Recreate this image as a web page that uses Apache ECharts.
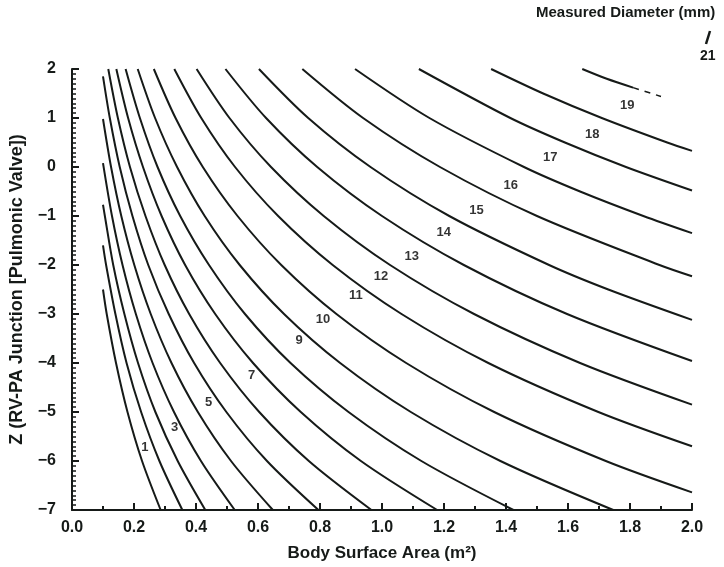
<!DOCTYPE html>
<html>
<head>
<meta charset="utf-8">
<script src="https://cdn.jsdelivr.net/npm/echarts@6/dist/echarts.min.js"></script>
<style>
  html, body { margin: 0; padding: 0; background: #fff; }
  #chart { width: 724px; height: 567px; }
</style>
</head>
<body>
<div id="chart"></div>
<script>
// one curve per measured diameter (mm): [BSA, Z]
const curve1  = [[0.100,-2.5],[0.112,-3],[0.142,-4],[0.179,-5],[0.226,-6],[0.286,-7]];
const curve2  = [[0.100,-1.6],[0.110,-2],[0.140,-3],[0.176,-4],[0.223,-5],[0.282,-6],[0.356,-7]];
const curve3  = [[0.100,-0.77],[0.106,-1],[0.133,-2],[0.169,-3],[0.213,-4],[0.269,-5],[0.341,-6],[0.430,-7]];
const curve4  = [[0.100,0.08],[0.129,-1],[0.163,-2],[0.206,-3],[0.260,-4],[0.329,-5],[0.416,-6],[0.525,-7]];
const curve5  = [[0.100,0.98],[0.126,0],[0.159,-1],[0.201,-2],[0.254,-3],[0.321,-4],[0.406,-5],[0.513,-6],[0.648,-7]];
const curve6  = [[0.100,1.85],[0.122,1],[0.154,0],[0.195,-1],[0.246,-2],[0.312,-3],[0.394,-4],[0.498,-5],[0.629,-6],[0.795,-7]];
const curve7  = [[0.117,2],[0.148,1],[0.187,0],[0.237,-1],[0.299,-2],[0.378,-3],[0.478,-4],[0.604,-5],[0.764,-6],[0.966,-7]];
const curve8  = [[0.143,2],[0.181,1],[0.229,0],[0.289,-1],[0.365,-2],[0.462,-3],[0.584,-4],[0.738,-5],[0.932,-6],[1.178,-7]];
const curve9  = [[0.173,2],[0.219,1],[0.276,0],[0.349,-1],[0.442,-2],[0.558,-3],[0.705,-4],[0.892,-5],[1.127,-6],[1.424,-7]];
const curve10 = [[0.212,2],[0.268,1],[0.339,0],[0.428,-1],[0.541,-2],[0.684,-3],[0.865,-4],[1.093,-5],[1.382,-6],[1.746,-7]];
const curve11 = [[0.264,2],[0.334,1],[0.422,0],[0.534,-1],[0.675,-2],[0.853,-3],[1.078,-4],[1.362,-5],[1.722,-6],[2.0,-6.64]];
const curve12 = [[0.330,2],[0.417,1],[0.526,0],[0.665,-1],[0.841,-2],[1.063,-3],[1.343,-4],[1.698,-5],[2.0,-5.70]];
const curve13 = [[0.402,2],[0.508,1],[0.642,0],[0.812,-1],[1.026,-2],[1.297,-3],[1.639,-4],[2.0,-4.85]];
const curve14 = [[0.495,2],[0.626,1],[0.791,0],[1.000,-1],[1.264,-2],[1.597,-3],[2.0,-3.96]];
const curve15 = [[0.603,2],[0.762,1],[0.963,0],[1.217,-1],[1.539,-2],[1.730,-2.5],[2.0,-3.12]];
const curve16 = [[0.743,2],[0.939,1],[1.187,0],[1.500,-1],[1.895,-2],[2.0,-2.23]];
const curve17 = [[0.913,2],[1.153,1],[1.458,0],[1.639,-0.5],[1.843,-1],[2.0,-1.35]];
const curve18 = [[1.119,2],[1.414,1],[1.590,0.5],[1.787,0],[2.0,-0.48]];
const curve19 = [[1.352,2],[1.520,1.5],[1.709,1],[1.920,0.5],[2.0,0.33]];
const curve20 = [[1.646,2],[1.725,1.8],[1.810,1.62]];
const curve20Tail = [[1.810,1.62],[1.900,1.44]];   // dashed bit in the scan

const curves = [curve1, curve2, curve3, curve4, curve5, curve6, curve7, curve8, curve9, curve10,
                curve11, curve12, curve13, curve14, curve15, curve16, curve17, curve18, curve19, curve20];

// diameter labels printed along the curves
const labelText = ['1', '3', '5', '7', '9', '10', '11', '12', '13', '14', '15', '16', '17', '18', '19'];
const labelBsa  = [0.235, 0.331, 0.441, 0.579, 0.733, 0.810, 0.916, 0.997, 1.096, 1.199, 1.305, 1.415, 1.543, 1.678, 1.791];
const labelZ    = [-5.72, -5.32, -4.81, -4.26, -3.53, -3.12, -2.63, -2.23, -1.82, -1.33, -0.89, -0.38, 0.19, 0.66, 1.25];

const INK = '#161a18';
const FONT = '"Liberation Sans", Arial, sans-serif';

const chart = echarts.init(document.getElementById('chart'));

const series = curves.map((pts, i) => ({
    name: 'd' + (i + 1),
    type: 'line',
    data: pts,
    smooth: 0.3,
    showSymbol: false,
    silent: true,
    lineStyle: { color: INK, width: 2 }
}));

series.push({
    type: 'line',
    data: curve20Tail,
    showSymbol: false,
    silent: true,
    lineStyle: { color: INK, width: 1.5, type: [6, 6] }
});

series.push({
    type: 'scatter',
    symbolSize: 0,
    silent: true,
    data: labelText.map((t, i) => [labelBsa[i], labelZ[i], t]),
    label: {
        show: true,
        position: 'inside',
        formatter: p => p.value[2],
        color: '#000',
        fontFamily: FONT,
        fontWeight: 'bold',
        fontSize: 13
    }
});

chart.setOption({
    animation: false,
    backgroundColor: '#fff',
    grid: { left: 70, right: 32, top: 69, bottom: 55 },
    xAxis: {
        type: 'value',
        min: 0, max: 2, interval: 0.2,
        name: 'Body Surface Area (m²)',
        nameLocation: 'middle',
        nameGap: 35,
        nameTextStyle: { color: INK, fontFamily: FONT, fontWeight: 'bold', fontSize: 17 },
        axisLine: { show: true, onZero: false, lineStyle: { color: INK, width: 2 } },
        axisTick: { show: true, inside: true, length: 7, lineStyle: { color: INK, width: 2 } },
        minorTick: { show: true, splitNumber: 2, length: 4, lineStyle: { color: INK, width: 2 } },
        axisLabel: {
            color: INK, fontFamily: FONT, fontWeight: 'bold', fontSize: 16, margin: 10,
            formatter: v => v.toFixed(1)
        },
        splitLine: { show: false }
    },
    yAxis: {
        type: 'value',
        min: -7, max: 2, interval: 1,
        name: 'Z (RV-PA Junction [Pulmonic Valve])',
        nameLocation: 'middle',
        nameGap: 46,
        nameTextStyle: { color: INK, fontFamily: FONT, fontWeight: 'bold', fontSize: 18 },
        axisLine: { show: true, onZero: false, lineStyle: { color: INK, width: 2 } },
        axisTick: { show: true, inside: true, length: 7, lineStyle: { color: INK, width: 2 } },
        minorTick: { show: true, splitNumber: 10, length: 4, lineStyle: { color: INK, width: 1.5 } },
        axisLabel: {
            color: INK, fontFamily: FONT, fontWeight: 'bold', fontSize: 16, margin: 16,
            formatter: v => String(v).replace('-', '\u2212')
        },
        splitLine: { show: false }
    },
    graphic: [
        {
            type: 'text', left: 536, top: 5,
            style: { text: 'Measured Diameter (mm)', fill: INK, font: 'bold 15px ' + FONT }
        },
        {
            type: 'line', silent: true,
            shape: { x1: 706, y1: 44, x2: 710, y2: 31 },
            style: { stroke: INK, lineWidth: 2.5 }
        },
        {
            type: 'text', left: 700, top: 49,
            style: { text: '21', fill: INK, font: 'bold 14px ' + FONT }
        }
    ],
    series: series
});
</script>
</body>
</html>
